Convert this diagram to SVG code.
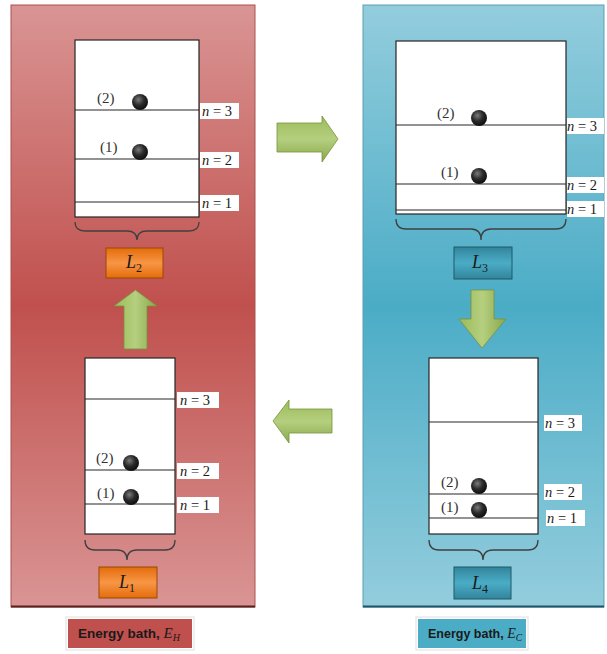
<svg xmlns="http://www.w3.org/2000/svg" width="607" height="654" viewBox="0 0 607 654">
<defs>
  <linearGradient id="gRed" x1="0" y1="0" x2="0" y2="1">
    <stop offset="0" stop-color="#d99594"/>
    <stop offset="0.5" stop-color="#c0504d"/>
    <stop offset="1" stop-color="#d99594"/>
  </linearGradient>
  <linearGradient id="gBlue" x1="0" y1="0" x2="0" y2="1">
    <stop offset="0" stop-color="#93cddd"/>
    <stop offset="0.5" stop-color="#4bacc6"/>
    <stop offset="1" stop-color="#93cddd"/>
  </linearGradient>
  <linearGradient id="gOrange" x1="0" y1="0" x2="0" y2="1">
    <stop offset="0" stop-color="#e46c0a"/>
    <stop offset="0.5" stop-color="#f79646"/>
    <stop offset="1" stop-color="#e46c0a"/>
  </linearGradient>
  <linearGradient id="gTeal" x1="0" y1="0" x2="0" y2="1">
    <stop offset="0" stop-color="#31859c"/>
    <stop offset="0.5" stop-color="#4bacc6"/>
    <stop offset="1" stop-color="#31859c"/>
  </linearGradient>
  <linearGradient id="gGreenH" x1="0" y1="0" x2="0" y2="1">
    <stop offset="0" stop-color="#9bbb59"/>
    <stop offset="0.5" stop-color="#b5cf7f"/>
    <stop offset="1" stop-color="#8aa84c"/>
  </linearGradient>
  <linearGradient id="gGreenV" x1="0" y1="0" x2="1" y2="0">
    <stop offset="0" stop-color="#9bbb59"/>
    <stop offset="0.5" stop-color="#b5cf7f"/>
    <stop offset="1" stop-color="#8aa84c"/>
  </linearGradient>
  <radialGradient id="gBall" cx="0.4" cy="0.35" r="0.7">
    <stop offset="0" stop-color="#7a7a7a"/>
    <stop offset="0.5" stop-color="#2a2a2a"/>
    <stop offset="1" stop-color="#0a0a0a"/>
  </radialGradient>
</defs>
<style>
  .box{fill:#ffffff;stroke:#262626;stroke-width:1.2}
  .lvl{stroke:#262626;stroke-width:1.2}
  .nlab{fill:#ffffff}
  .nt{font-family:"Liberation Serif",serif;font-size:14.5px;fill:#1a1a1a}
  .pt{font-family:"Liberation Serif",serif;font-size:15px;fill:#333333}
  .ball{fill:url(#gBall)}
  .brace{fill:none;stroke:#404040;stroke-width:1.3}
  .Lt{font-family:"Liberation Serif",serif;font-size:18px;font-style:italic;fill:#1a1a1a}
  .bath{font-family:"Liberation Sans",sans-serif;font-weight:bold;fill:#1a1a1a}
  .arr{stroke:#76923c;stroke-width:0.8}
</style>

<g id="bath-hot-panel">
  <rect x="11" y="5" width="244" height="602" fill="url(#gRed)" stroke="#a85250" stroke-width="1"/>
  <line x1="11" y1="606.5" x2="255" y2="606.5" stroke="#5a2020" stroke-width="2"/>
</g>
<g id="bath-cold-panel">
  <rect x="363" y="5" width="241" height="602" fill="url(#gBlue)" stroke="#5a9fb2" stroke-width="1"/>
  <line x1="363" y1="606.5" x2="604" y2="606.5" stroke="#1f5566" stroke-width="2"/>
</g>

<g id="L2">
  <rect class="box" x="75" y="40" width="124" height="177"/>
  <line class="lvl" x1="75" y1="110" x2="199" y2="110"/>
  <line class="lvl" x1="75" y1="159" x2="199" y2="159"/>
  <line class="lvl" x1="75" y1="202" x2="199" y2="202"/>
  <rect class="nlab" x="200" y="103" width="39" height="16"/>
  <rect class="nlab" x="200" y="152" width="39" height="16"/>
  <rect class="nlab" x="200" y="195" width="39" height="16"/>
  <text class="nt" x="202" y="116"><tspan font-style="italic">n</tspan> = 3</text>
  <text class="nt" x="202" y="165"><tspan font-style="italic">n</tspan> = 2</text>
  <text class="nt" x="202" y="208"><tspan font-style="italic">n</tspan> = 1</text>
  <circle class="ball" cx="140" cy="102" r="8"/>
  <circle class="ball" cx="140" cy="152" r="8"/>
  <text class="pt" x="97" y="103">(2)</text>
  <text class="pt" x="100" y="152">(1)</text>
  <path class="brace" d="M75,222 Q75,231 85,231 L127,231 Q137,231 137,240 Q137,231 147,231 L189,231 Q199,231 199,222"/>
  <rect x="106" y="248" width="57" height="30" fill="url(#gOrange)" stroke="#984807" stroke-width="1"/>
  <text class="Lt" x="126" y="268">L<tspan font-size="12" dy="4" font-style="normal">2</tspan></text>
</g>

<g id="L3">
  <rect class="box" x="396" y="41" width="170" height="173"/>
  <line class="lvl" x1="396" y1="125" x2="566" y2="125"/>
  <line class="lvl" x1="396" y1="184" x2="566" y2="184"/>
  <line class="lvl" x1="396" y1="210" x2="566" y2="210"/>
  <rect class="nlab" x="567" y="118" width="37" height="16"/>
  <rect class="nlab" x="567" y="177" width="37" height="16"/>
  <rect class="nlab" x="567" y="201" width="37" height="16"/>
  <text class="nt" x="567" y="131"><tspan font-style="italic">n</tspan> = 3</text>
  <text class="nt" x="567" y="190"><tspan font-style="italic">n</tspan> = 2</text>
  <text class="nt" x="567" y="214"><tspan font-style="italic">n</tspan> = 1</text>
  <circle class="ball" cx="479" cy="118" r="8"/>
  <circle class="ball" cx="479" cy="176" r="8"/>
  <text class="pt" x="437" y="118">(2)</text>
  <text class="pt" x="441" y="177">(1)</text>
  <path class="brace" d="M396,219 Q396,229 406,229 L471,229 Q481,229 481,240 Q481,229 491,229 L556,229 Q566,229 566,219"/>
  <rect x="454" y="247" width="58" height="32" fill="url(#gTeal)" stroke="#215968" stroke-width="1"/>
  <text class="Lt" x="472" y="268">L<tspan font-size="12" dy="4" font-style="normal">3</tspan></text>
</g>

<g id="L1">
  <rect class="box" x="85" y="358" width="90" height="176"/>
  <line class="lvl" x1="85" y1="399" x2="175" y2="399"/>
  <line class="lvl" x1="85" y1="470" x2="175" y2="470"/>
  <line class="lvl" x1="85" y1="504" x2="175" y2="504"/>
  <rect class="nlab" x="177" y="392" width="42" height="16"/>
  <rect class="nlab" x="177" y="463" width="42" height="16"/>
  <rect class="nlab" x="177" y="497" width="42" height="16"/>
  <text class="nt" x="180" y="405"><tspan font-style="italic">n</tspan> = 3</text>
  <text class="nt" x="180" y="476"><tspan font-style="italic">n</tspan> = 2</text>
  <text class="nt" x="180" y="510"><tspan font-style="italic">n</tspan> = 1</text>
  <circle class="ball" cx="131" cy="463" r="8"/>
  <circle class="ball" cx="131" cy="497" r="8"/>
  <text class="pt" x="96" y="463">(2)</text>
  <text class="pt" x="97" y="498">(1)</text>
  <path class="brace" d="M85,540 Q85,550 95,550 L117,550 Q127,550 127,560 Q127,550 137,550 L165,550 Q175,550 175,540"/>
  <rect x="99" y="567" width="58" height="31" fill="url(#gOrange)" stroke="#984807" stroke-width="1"/>
  <text class="Lt" x="119" y="588">L<tspan font-size="12" dy="4" font-style="normal">1</tspan></text>
</g>

<g id="L4">
  <rect class="box" x="429" y="358" width="109" height="176"/>
  <line class="lvl" x1="429" y1="422" x2="538" y2="422"/>
  <line class="lvl" x1="429" y1="494" x2="538" y2="494"/>
  <line class="lvl" x1="429" y1="518" x2="538" y2="518"/>
  <rect class="nlab" x="544" y="415" width="38" height="16"/>
  <rect class="nlab" x="544" y="484" width="38" height="16"/>
  <rect class="nlab" x="546" y="510" width="39" height="16"/>
  <text class="nt" x="545" y="428"><tspan font-style="italic">n</tspan> = 3</text>
  <text class="nt" x="545" y="497"><tspan font-style="italic">n</tspan> = 2</text>
  <text class="nt" x="547" y="523"><tspan font-style="italic">n</tspan> = 1</text>
  <circle class="ball" cx="479" cy="486" r="8"/>
  <circle class="ball" cx="479" cy="510" r="8"/>
  <text class="pt" x="441" y="487">(2)</text>
  <text class="pt" x="441" y="512">(1)</text>
  <path class="brace" d="M429,540 Q429,550 439,550 L473,550 Q483,550 483,560 Q483,550 493,550 L528,550 Q538,550 538,540"/>
  <rect x="454" y="567" width="57" height="32" fill="url(#gTeal)" stroke="#215968" stroke-width="1"/>
  <text class="Lt" x="472" y="589">L<tspan font-size="12" dy="4" font-style="normal">4</tspan></text>
</g>

<g id="connectors">
  <path class="arr" fill="url(#gGreenH)" d="M277,123 L322,123 L322,116 L338,139 L322,162 L322,152 L277,152 Z"/>
  <path class="arr" fill="url(#gGreenV)" d="M471,290 L494,290 L494,319 L506,319 L482,348 L459,319 L471,319 Z"/>
  <path class="arr" fill="url(#gGreenH)" d="M332,409 L289,409 L289,400 L273,421 L289,443 L289,433 L332,433 Z"/>
  <path class="arr" fill="url(#gGreenV)" d="M124,349 L147,349 L147,306 L157,306 L135.5,290 L114,306 L124,306 Z"/>
</g>

<g id="label-EH">
  <rect x="66" y="617" width="128" height="33" fill="#ffffff" stroke="#e0e0e0" stroke-width="1"/>
  <rect x="68" y="619" width="124" height="29" fill="#c0504d"/>
  <text class="bath" x="78" y="638" font-size="13.5">Energy bath, <tspan font-family="Liberation Serif,serif" font-style="italic" font-weight="normal" font-size="15">E</tspan><tspan font-family="Liberation Serif,serif" font-style="italic" font-weight="normal" font-size="10" dy="3">H</tspan></text>
</g>
<g id="label-EC">
  <rect x="416" y="617" width="112" height="33" fill="#ffffff" stroke="#e0e0e0" stroke-width="1"/>
  <rect x="418" y="619" width="108" height="29" fill="#4bacc6"/>
  <text class="bath" x="428" y="638" font-size="12.5">Energy bath, <tspan font-family="Liberation Serif,serif" font-style="italic" font-weight="normal" font-size="14">E</tspan><tspan font-family="Liberation Serif,serif" font-style="italic" font-weight="normal" font-size="9.5" dy="3">C</tspan></text>
</g>
</svg>
